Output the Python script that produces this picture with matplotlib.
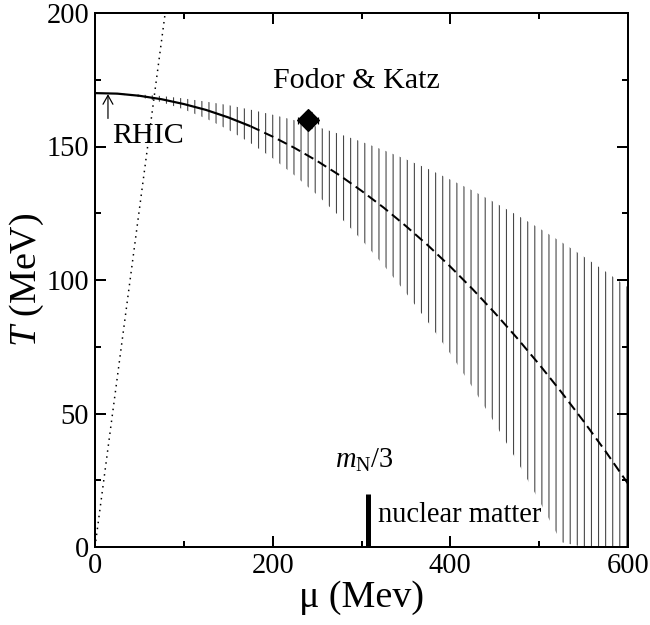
import matplotlib
matplotlib.use("Agg")
import matplotlib.pyplot as plt

DPI = 85
P = 72.0 / DPI  # pixels -> points

plt.rcParams['font.family'] = ['Liberation Serif', 'DejaVu Serif']
plt.rcParams['mathtext.fontset'] = 'custom'
plt.rcParams['mathtext.rm'] = 'Liberation Serif'
plt.rcParams['mathtext.it'] = 'Liberation Serif:italic'
plt.rcParams['hatch.linewidth'] = 1.1 * P
plt.rcParams['hatch.color'] = '#474747'

# ---- data ----
mu = [0, 25, 50, 75, 100, 125, 150, 175, 200, 225, 250, 275, 300,
      325, 350, 375, 400, 425, 450, 475, 500, 525, 550, 575, 600]
T_center = [170.0, 169.8, 169.0, 167.7, 165.9, 163.7, 160.9, 157.6, 153.7,
            149.4, 144.6, 139.3, 133.4, 127.1, 120.2, 112.9, 105.0, 96.6,
            87.7, 78.3, 68.4, 58.0, 47.1, 35.7, 23.7]
T_upper = [170.0, 169.9, 169.5, 168.9, 168.0, 166.8, 165.5, 163.8, 161.9,
           159.8, 157.4, 154.7, 151.8, 148.6, 145.2, 141.6, 137.6, 133.5,
           129.0, 124.3, 119.4, 114.2, 108.8, 103.1, 97.2]
T_lower = [170.0, 169.6, 168.5, 166.6, 163.9, 160.5, 156.3, 151.3, 145.6,
           139.1, 131.9, 123.9, 115.1, 105.5, 95.2, 84.2, 72.4, 59.8,
           46.4, 32.3, 17.4, 1.8, 0.0, 0.0, 0.0]
n_solid = 8  # solid up to mu = 175, dashed beyond

dot_mu = [0, 79]
dot_T = [0, 200]

fk_mu, fk_T, fk_xerr, fk_yerr = [240], [160], [11], [3]
rhic_mu, rhic_T0, rhic_T1 = 14.6, 160.5, 169.6
nm_mu, nm_T = [307, 307], [0, 20]

xticks_major = [0, 200, 400, 600]
xticks_minor = [100, 300, 500]
yticks_major = [0, 50, 100, 150, 200]
yticks_minor = [25, 75, 125, 175]

# ---- figure ----
fig = plt.figure(figsize=(650 / DPI, 625 / DPI), dpi=DPI)
ax = fig.add_axes([95 / 650, (625 - 547) / 625, 533 / 650, 534 / 625])

ax.fill_between(mu, T_lower, T_upper, facecolor='none', edgecolor='#474747',
                hatch='||', linewidth=0)

ax.plot(mu[:n_solid], T_center[:n_solid], color='black', lw=2.2 * P,
        solid_capstyle='butt')
ax.plot(mu[n_solid - 1:], T_center[n_solid - 1:], color='black', lw=2.0 * P,
        dashes=(5, 2.6))

ax.plot(dot_mu, dot_T, color='black', lw=1.5 * P, dashes=(1, 3))

ax.errorbar(fk_mu, fk_T, xerr=fk_xerr, yerr=fk_yerr, fmt='D', color='black',
            ms=16 * P, elinewidth=1.2 * P, capsize=3.5 * P, capthick=1.2 * P)

ax.annotate('', xy=(rhic_mu, rhic_T1), xytext=(rhic_mu, rhic_T0),
            arrowprops=dict(arrowstyle='->,head_length=0.5,head_width=0.28',
                            mutation_scale=15, lw=1.2 * P, color='black',
                            shrinkA=0, shrinkB=0))

ax.plot(nm_mu, nm_T, color='black', lw=5 * P, solid_capstyle='butt')

ax.text(200, 172, 'Fodor & Katz', fontsize=30 * P, va='baseline')
ax.text(18.8, 151.2, 'RHIC', fontsize=30 * P, va='baseline')
ax.text(270, 29.5, r'$m_\mathrm{N}$/3', fontsize=28.5 * P, va='baseline')
ax.text(319, 9.5, 'nuclear matter', fontsize=28.5 * P, va='baseline')

ax.set_xlim(0, 600)
ax.set_ylim(0, 200)
ax.set_xticks(xticks_major)
ax.set_xticks(xticks_minor, minor=True)
ax.set_yticks(yticks_major)
ax.set_yticks(yticks_minor, minor=True)
ax.tick_params(which='both', direction='in', top=True, right=True,
               width=2 * P, labelsize=28.5 * P, pad=6 * P)
ax.tick_params(which='major', length=11 * P)
ax.tick_params(which='minor', length=6 * P)
for s in ax.spines.values():
    s.set_linewidth(2 * P)

ax.set_xlabel('μ (Mev)', fontsize=38 * P, labelpad=1)
ax.set_ylabel('$T$ (MeV)', fontsize=38 * P, labelpad=0)

fig.savefig('out.png', dpi=DPI)
